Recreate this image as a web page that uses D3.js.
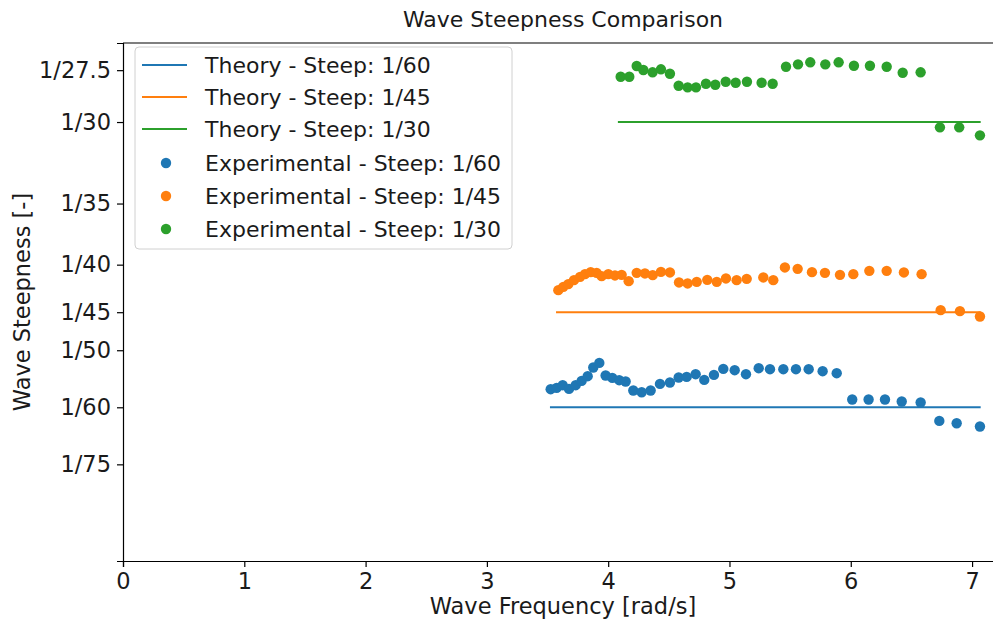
<!DOCTYPE html>
<html>
<head>
<meta charset="utf-8">
<script src="https://cdn.jsdelivr.net/npm/d3@7"></script>
<style>
  html, body { margin: 0; padding: 0; background: #fff; }
  svg { display: block; font-family: "DejaVu Sans", sans-serif; }
</style>
</head>
<body>
<svg id="chart" width="993" height="620"></svg>
<script>
// Measured wave frequency [rad/s] and steepness H/L for each target steepness
const freq60 = [3.526,3.575,3.625,3.677,3.732,3.781,3.831,3.877,3.927,3.979,4.034,4.091,4.144,4.207,4.276,4.350,4.427,4.509,4.581,4.647,4.721,4.792,4.872,4.949,5.043,5.136,5.241,5.334,5.444,5.548,5.653,5.768,5.884,6.012,6.147,6.282,6.420,6.576,6.730,6.873,7.065];
const steep60 = [0.017724,0.017800,0.017958,0.017741,0.017958,0.018209,0.018484,0.018992,0.019261,0.018525,0.018384,0.018250,0.018174,0.017648,0.017548,0.017648,0.018034,0.018115,0.018408,0.018443,0.018601,0.018267,0.018560,0.018910,0.018834,0.018601,0.018951,0.018893,0.018893,0.018893,0.018893,0.018776,0.018659,0.017122,0.017122,0.017122,0.017005,0.016946,0.015871,0.015736,0.015543];

const freq45 = [3.589,3.630,3.671,3.718,3.768,3.809,3.856,3.905,3.946,4.001,4.056,4.111,4.169,4.235,4.303,4.367,4.435,4.509,4.584,4.655,4.730,4.817,4.895,4.971,5.059,5.142,5.279,5.361,5.457,5.562,5.680,5.787,5.911,6.021,6.153,6.296,6.438,6.584,6.741,6.900,7.065];
const steep45 = [0.023511,0.023704,0.023862,0.024096,0.024289,0.024447,0.024563,0.024523,0.024330,0.024447,0.024370,0.024406,0.024037,0.024523,0.024487,0.024388,0.024581,0.024546,0.023961,0.023903,0.023996,0.024113,0.023996,0.024195,0.024096,0.024172,0.024254,0.024096,0.024838,0.024756,0.024563,0.024523,0.024406,0.024447,0.024639,0.024639,0.024546,0.024447,0.022342,0.022284,0.021974];

const freq30 = [4.103,4.174,4.235,4.290,4.366,4.435,4.509,4.581,4.655,4.724,4.806,4.883,4.969,5.051,5.144,5.265,5.356,5.466,5.565,5.666,5.790,5.900,6.026,6.158,6.296,6.428,6.576,6.735,6.894,7.065];
const steep30 = [0.035981,0.035981,0.036606,0.036372,0.036238,0.036413,0.036156,0.035454,0.035361,0.035361,0.035571,0.035513,0.035688,0.035630,0.035688,0.035630,0.035571,0.036565,0.036705,0.036822,0.036705,0.036822,0.036624,0.036624,0.036565,0.036214,0.036238,0.033022,0.033022,0.032555];

// Theoretical steepness per case, drawn over the tested frequency band
const theoryLabels = ["1/60", "1/45", "1/30"];
const theoryLevels = [1/60, 1/45, 1/30];
const theoryFrom = [3.520, 3.570, 4.080];
const theoryTo = [7.071, 7.071, 7.071];

// Y tick positions (steepness) and their fraction labels
const yTickValues = [1/27.5, 1/30, 1/35, 1/40, 1/45, 1/50, 1/60, 1/75];
const yTickLabels = ["1/27.5", "1/30", "1/35", "1/40", "1/45", "1/50", "1/60", "1/75"];
const xTickValues = [0, 1, 2, 3, 4, 5, 6, 7];

const colors = ["#1f77b4", "#ff7f0e", "#2ca02c"];

const svg = d3.select("#chart");
const margin = { left: 123, top: 43, right: 1003, bottom: 561 };

const x = d3.scaleLinear().domain([0, 7.255]).range([margin.left, margin.right]);
const y = d3.scaleLinear().domain([0.007686, 0.037951]).range([margin.bottom, margin.top]);

const fontSize = 22;
const tickFont = 22.5;

// Theory lines
const theory = theoryLevels.map((v, i) => ({ v, from: theoryFrom[i], to: theoryTo[i], color: colors[i] }));
svg.append("g").selectAll("line").data(theory).join("line")
  .attr("x1", d => x(d.from)).attr("x2", d => x(d.to))
  .attr("y1", d => y(d.v)).attr("y2", d => y(d.v))
  .attr("stroke", d => d.color).attr("stroke-width", 2);

// Experimental points
const series = [
  { f: freq60, s: steep60, color: colors[0] },
  { f: freq45, s: steep45, color: colors[1] },
  { f: freq30, s: steep30, color: colors[2] }
];
series.forEach(ser => {
  svg.append("g").selectAll("circle").data(ser.f.map((f, i) => [f, ser.s[i]])).join("circle")
    .attr("cx", d => x(d[0])).attr("cy", d => y(d[1])).attr("r", 5.2)
    .attr("fill", ser.color);
});

// Axes
const xAxis = d3.axisBottom(x).tickValues(xTickValues).tickFormat(d3.format("d")).tickSize(6).tickPadding(6);
const gx = svg.append("g").attr("transform", `translate(0,${margin.bottom})`).call(xAxis);
gx.selectAll("text").attr("font-size", tickFont).attr("fill", "#1a1a1a").attr("font-family", "DejaVu Sans");
gx.select(".domain").attr("stroke", "#000").attr("stroke-width", 1.2);
gx.selectAll(".tick line").attr("stroke", "#000").attr("stroke-width", 1.2);

const yAxis = d3.axisLeft(y).tickValues(yTickValues).tickFormat((d, i) => yTickLabels[i]).tickSize(6).tickPadding(6);
const gy = svg.append("g").attr("transform", `translate(${margin.left},0)`).call(yAxis);
gy.selectAll("text").attr("font-size", tickFont).attr("fill", "#1a1a1a").attr("font-family", "DejaVu Sans");
gy.select(".domain").attr("stroke", "#000").attr("stroke-width", 1.2);
gy.selectAll(".tick line").attr("stroke", "#000").attr("stroke-width", 1.2);

// Top spine
svg.append("line")
  .attr("x1", margin.left).attr("x2", margin.right)
  .attr("y1", margin.top).attr("y2", margin.top)
  .attr("stroke", "#000").attr("stroke-width", 1.2);

// Titles
svg.append("text").attr("x", (margin.left + margin.right) / 2).attr("y", 27)
  .attr("text-anchor", "middle").attr("font-size", fontSize).attr("fill", "#1a1a1a").text("Wave Steepness Comparison");
svg.append("text").attr("x", (margin.left + margin.right) / 2).attr("y", 614)
  .attr("text-anchor", "middle").attr("font-size", tickFont).attr("fill", "#1a1a1a").text("Wave Frequency [rad/s]");
svg.append("text")
  .attr("transform", `translate(30,${(margin.top + margin.bottom) / 2}) rotate(-90)`)
  .attr("text-anchor", "middle").attr("font-size", tickFont).attr("fill", "#1a1a1a").text("Wave Steepness [-]");

// Legend
const legend = svg.append("g");
legend.append("rect").attr("x", 135).attr("y", 47).attr("width", 377).attr("height", 202)
  .attr("rx", 4).attr("fill", "#fff").attr("fill-opacity", 0.8)
  .attr("stroke", "#d0d0d0").attr("stroke-width", 1);
const rowY = [65, 97, 129, 163, 196, 229];
const legendItems = [
  ...theoryLabels.map((l, i) => ({ kind: "line", color: colors[i], text: `Theory - Steep: ${l}` })),
  ...theoryLabels.map((l, i) => ({ kind: "dot", color: colors[i], text: `Experimental - Steep: ${l}` }))
];
legendItems.forEach((it, i) => {
  const yy = rowY[i];
  if (it.kind === "line") {
    legend.append("line").attr("x1", 142).attr("x2", 187).attr("y1", yy).attr("y2", yy)
      .attr("stroke", it.color).attr("stroke-width", 2);
  } else {
    legend.append("circle").attr("cx", 166).attr("cy", yy).attr("r", 5.2).attr("fill", it.color);
  }
  legend.append("text").attr("x", 205).attr("y", yy).attr("dy", "0.35em")
    .attr("font-size", fontSize).attr("fill", "#1a1a1a").text(it.text);
});
</script>
</body>
</html>
